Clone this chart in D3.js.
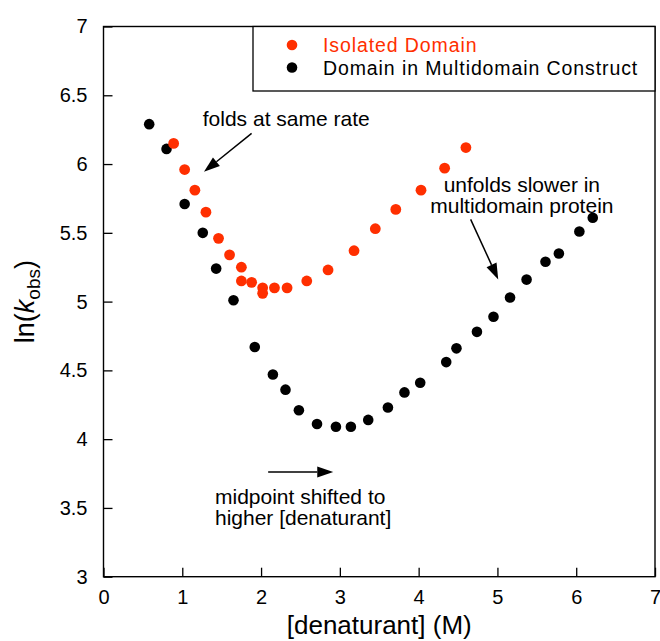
<!DOCTYPE html>
<html>
<head>
<meta charset="utf-8">
<script src="https://cdn.jsdelivr.net/npm/d3@7"></script>
<style>
  html, body { margin: 0; padding: 0; background: #fff; }
  svg { display: block; font-family: "Liberation Sans", Arial, Helvetica, sans-serif; }
</style>
</head>
<body>
<svg id="chart" width="660" height="641"></svg>
<script>
// ---- Data ----
const isolatedX = [0.89, 1.03, 1.16, 1.30, 1.46, 1.60, 1.75, 1.75, 1.88, 2.02, 2.02, 2.17, 2.33, 2.58, 2.85, 3.18, 3.45, 3.71, 4.03, 4.33, 4.60];
const isolatedY = [6.15, 5.96, 5.81, 5.65, 5.46, 5.34, 5.25, 5.15, 5.14, 5.10, 5.06, 5.10, 5.10, 5.15, 5.23, 5.37, 5.53, 5.67, 5.81, 5.97, 6.12];

const multiX = [0.58, 0.80, 1.03, 1.26, 1.43, 1.65, 1.92, 2.15, 2.31, 2.48, 2.71, 2.95, 3.14, 3.36, 3.61, 3.82, 4.02, 4.35, 4.48, 4.74, 4.95, 5.16, 5.37, 5.61, 5.78, 6.04, 6.21];
const multiY = [6.29, 6.11, 5.71, 5.50, 5.24, 5.01, 4.67, 4.47, 4.36, 4.21, 4.11, 4.09, 4.09, 4.14, 4.23, 4.34, 4.41, 4.56, 4.66, 4.78, 4.89, 5.03, 5.16, 5.29, 5.35, 5.51, 5.61];

const seriesNames = ["Isolated Domain", "Domain in Multidomain Construct"];
const xTicks = [0, 1, 2, 3, 4, 5, 6, 7];
const yTicks = [3, 3.5, 4, 4.5, 5, 5.5, 6, 6.5, 7];

// annotations in data coordinates
const annoTexts = [
  { lines: ["folds at same rate"], x: 1.26, y: 6.273, anchor: "start" },
  { lines: ["unfolds slower in", "multidomain protein"], x: 5.31, y: 5.794, anchor: "middle" },
  { lines: ["midpoint shifted to", "higher [denaturant]"], x: 1.415, y: 3.525, anchor: "start" }
];
const arrows = [
  { from: [1.88, 6.223], to: [1.275, 5.944] },
  { from: [4.66, 5.598], to: [5.01, 5.161] },
  { from: [2.09, 3.762], to: [2.916, 3.762] }
];

// ---- Layout ----
const RED = "#ff2f00";
const svg = d3.select("#chart");
const L = 103.5, R = 655, T = 26.5, B = 576.7;
const x = d3.scaleLinear().domain([0, 7]).range([L, R]);
const y = d3.scaleLinear().domain([3, 7]).range([B, T]);

// axes
const xAxis = d3.axisBottom(x).tickValues(xTicks).tickFormat(d => String(d))
  .tickSizeInner(-9).tickSizeOuter(0).tickPadding(13);
const yAxis = d3.axisLeft(y).tickValues(yTicks).tickFormat(d => String(d))
  .tickSizeInner(-9).tickSizeOuter(0).tickPadding(16);

const gx = svg.append("g").attr("transform", `translate(0,${B})`).call(xAxis);
const gy = svg.append("g").attr("transform", `translate(${L},0)`).call(yAxis);
[gx, gy].forEach(g => {
  g.select(".domain").remove();
  g.selectAll(".tick line").attr("stroke", "#000").attr("stroke-width", 1.3);
  g.selectAll(".tick text").attr("fill", "#000").style("font-size", "20px")
    .style("font-family", '"Liberation Sans", Arial, sans-serif');
});

// frame
svg.append("rect").attr("x", L).attr("y", T).attr("width", R - L).attr("height", B - T)
  .attr("fill", "none").attr("stroke", "#000").attr("stroke-width", 1.4);

// axis titles
svg.append("text").attr("x", (L + R) / 2).attr("y", 634).attr("text-anchor", "middle")
  .style("font-size", "26px").text("[denaturant] (M)");

const yt = svg.append("text").attr("transform", `translate(34,${(T + B) / 2}) rotate(-90)`)
  .attr("text-anchor", "middle").style("font-size", "27px");
yt.append("tspan").text("ln(");
yt.append("tspan").style("font-style", "italic").text("k");
yt.append("tspan").attr("baseline-shift", "-30%").style("font-size", "19px").text("obs");
yt.append("tspan").text(")");

// points
const isoData = isolatedX.map((v, i) => ({ x: v, y: isolatedY[i] }));
const multiData = multiX.map((v, i) => ({ x: v, y: multiY[i] }));

svg.append("g").selectAll("circle").data(multiData).join("circle")
  .attr("cx", d => x(d.x)).attr("cy", d => y(d.y)).attr("r", 5.3).attr("fill", "#000");
svg.append("g").selectAll("circle").data(isoData).join("circle")
  .attr("cx", d => x(d.x)).attr("cy", d => y(d.y)).attr("r", 5.4).attr("fill", RED);

// legend
const lg = svg.append("g");
lg.append("rect").attr("x", 253).attr("y", T).attr("width", R - 253).attr("height", 91 - T)
  .attr("fill", "#fff").attr("stroke", "#000").attr("stroke-width", 1.3);
const legendColors = [RED, "#000"];
seriesNames.forEach((name, i) => {
  const cy = 45 + i * 22.5;
  lg.append("circle").attr("cx", 292).attr("cy", cy).attr("r", 5.3).attr("fill", legendColors[i]);
  lg.append("text").attr("x", 323).attr("y", cy + 7).style("font-size", "19.5px")
    .style("letter-spacing", "0.9px")
    .attr("fill", legendColors[i]).text(name);
});

// annotations
annoTexts.forEach(a => {
  const t = svg.append("text").attr("text-anchor", a.anchor).style("font-size", "21px").attr("fill", "#000");
  a.lines.forEach((ln, i) => {
    t.append("tspan").attr("x", x(a.x)).attr("y", y(a.y) + i * 21).text(ln);
  });
});

arrows.forEach(a => {
  const x1 = x(a.from[0]), y1 = y(a.from[1]), x2 = x(a.to[0]), y2 = y(a.to[1]);
  const ang = Math.atan2(y2 - y1, x2 - x1);
  const hl = 16, hw = 5.5;
  const bx = x2 - hl * Math.cos(ang), by = y2 - hl * Math.sin(ang);
  svg.append("line").attr("x1", x1).attr("y1", y1).attr("x2", bx).attr("y2", by)
    .attr("stroke", "#000").attr("stroke-width", 1.5);
  const p1 = [bx + hw * Math.sin(ang), by - hw * Math.cos(ang)];
  const p2 = [bx - hw * Math.sin(ang), by + hw * Math.cos(ang)];
  svg.append("path").attr("d", `M${x2},${y2}L${p1[0]},${p1[1]}L${p2[0]},${p2[1]}Z`).attr("fill", "#000");
});
</script>
</body>
</html>
